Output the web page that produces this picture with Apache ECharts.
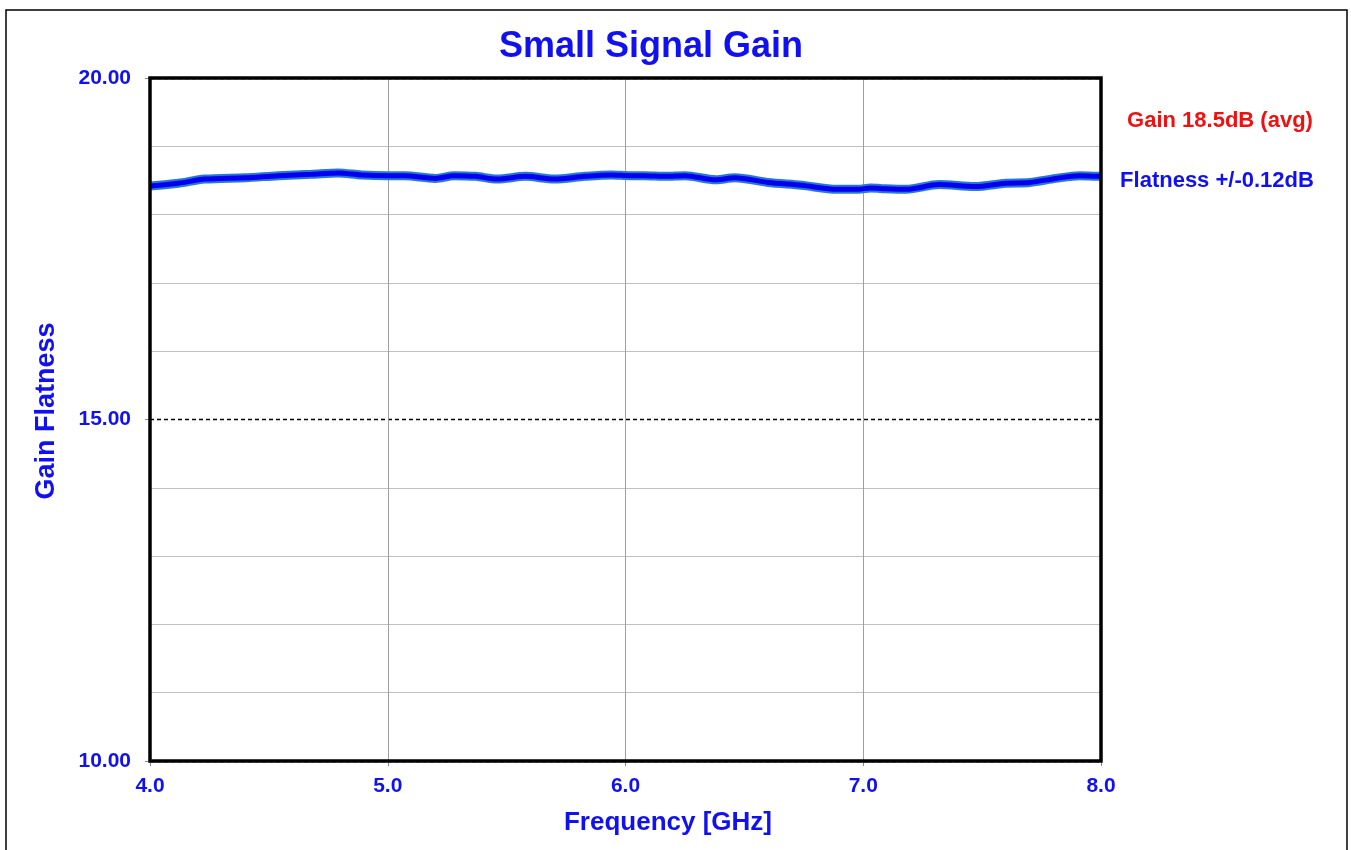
<!DOCTYPE html>
<html>
<head>
<meta charset="utf-8">
<script src="https://cdn.jsdelivr.net/npm/echarts@6/dist/echarts.min.js"></script>
<style>
html,body{margin:0;padding:0;background:#fff;}
#c{width:1351px;height:850px;}
</style>
</head>
<body>
<div id="c"></div>
<script>
// Data
const freqGHz = [4.00,4.12,4.23,4.40,4.54,4.68,4.79,4.89,5.00,5.07,5.20,5.28,5.37,5.46,5.58,5.70,5.83,5.94,6.02,6.08,6.17,6.25,6.38,6.46,6.60,6.74,6.89,6.98,7.03,7.08,7.18,7.32,7.47,7.60,7.70,7.81,7.91,8.00];
const gainDb  = [18.42,18.46,18.52,18.54,18.57,18.59,18.61,18.58,18.57,18.57,18.53,18.57,18.56,18.52,18.56,18.52,18.56,18.58,18.57,18.57,18.56,18.57,18.51,18.54,18.47,18.43,18.37,18.37,18.39,18.38,18.37,18.44,18.41,18.46,18.47,18.53,18.57,18.56];
const titleText = 'Small Signal Gain';
const xName = 'Frequency [GHz]';
const yName = 'Gain Flatness';
const noteGain = 'Gain 18.5dB (avg)';
const noteFlat = 'Flatness +/-0.12dB';
const yMin = 10, yMax = 20, yMajor = 5;
const xMin = 4, xMax = 8, xMajor = 1;

const pts = freqGHz.map((f, i) => [f, gainDb[i]]);
const BLUE = '#1010f0';
const FONT = '"Liberation Sans", Arial, sans-serif';
const G = {left: 150, top: 78, right: 250, bottom: 89};
const W = 1351, H = 850;

const chart = echarts.init(document.getElementById('c'), null, {renderer: 'canvas'});
chart.setOption({
  animation: false,
  backgroundColor: '#fff',
  title: {
    text: titleText, left: 646, top: 24, textAlign: 'center',
    textStyle: {color: BLUE, fontSize: 36, fontWeight: 'bold', fontFamily: FONT}
  },
  grid: {left: G.left, right: G.right, top: G.top, bottom: G.bottom, show: false, containLabel: false},
  xAxis: {
    type: 'value', min: xMin, max: xMax, interval: xMajor,
    axisLine: {show: false},
    axisTick: {show: true, length: 5, lineStyle: {color: '#888'}},
    axisLabel: {color: BLUE, fontSize: 21, fontWeight: 'bold', fontFamily: FONT, margin: 15, formatter: v => v.toFixed(1)},
    splitLine: {show: true, lineStyle: {color: '#a0a0a0', width: 1}}
  },
  yAxis: {
    type: 'value', min: yMin, max: yMax, interval: yMajor,
    axisLine: {show: false},
    axisTick: {show: true, length: 5, lineStyle: {color: '#888'}},
    minorTick: {show: false, splitNumber: 5},
    minorSplitLine: {show: true, lineStyle: {color: '#c0c0c0', width: 1}},
    axisLabel: {color: BLUE, fontSize: 21, fontWeight: 'bold', fontFamily: FONT, margin: 19, formatter: v => v.toFixed(2)},
    splitLine: {show: true, lineStyle: {color: '#000', width: 1.3, type: [4, 3]}}
  },
  series: [
    {type: 'line', data: pts, smooth: 0.3, symbol: 'none', silent: true,
     lineStyle: {color: '#2a78d6', width: 9}, z: 2},
    {type: 'line', data: pts, smooth: 0.3, symbol: 'none', silent: true,
     lineStyle: {color: '#0000f0', width: 5}, z: 3}
  ],
  graphic: [
    {type: 'rect', x: 6, y: 10, z: -10, silent: true,
     shape: {x: 0, y: 0, width: 1341, height: 850}, style: {fill: 'none', stroke: '#000', lineWidth: 1.5}},
    {type: 'rect', x: 0, y: 0, z: 100, silent: true,
     shape: {x: G.left, y: G.top, width: W - G.left - G.right, height: H - G.top - G.bottom},
     style: {fill: 'none', stroke: '#000', lineWidth: 3.5}},
    {type: 'text', x: 668, y: 823, silent: true,
     style: {text: xName, fill: BLUE, font: 'bold 26px ' + FONT, textAlign: 'center', textVerticalAlign: 'middle'}},
    {type: 'text', x: 47, y: 411, rotation: Math.PI / 2, silent: true,
     style: {text: yName, fill: BLUE, font: 'bold 27px ' + FONT, textAlign: 'center', textVerticalAlign: 'middle'}},
    {type: 'text', x: 1220, y: 121, silent: true,
     style: {text: noteGain, fill: '#ee1111', font: 'bold 22px ' + FONT, textAlign: 'center', textVerticalAlign: 'middle'}},
    {type: 'text', x: 1217, y: 181, silent: true,
     style: {text: noteFlat, fill: BLUE, font: 'bold 22px ' + FONT, textAlign: 'center', textVerticalAlign: 'middle'}}
  ]
});
</script>
</body>
</html>
